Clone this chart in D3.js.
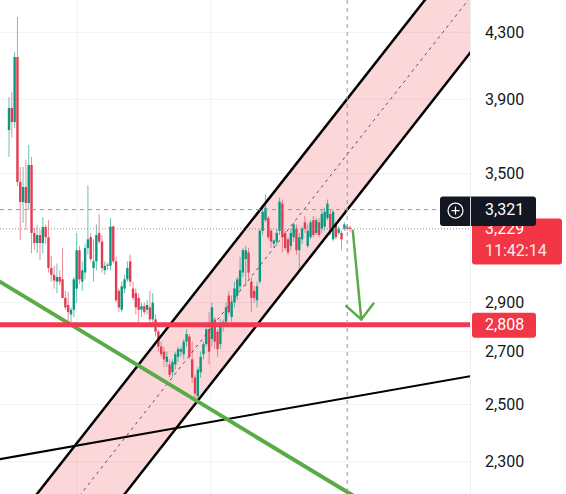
<!DOCTYPE html>
<html>
<head>
<meta charset="utf-8">
<script src="https://cdn.jsdelivr.net/npm/d3@7"></script>
<style>
  html, body { margin: 0; padding: 0; background: #fff; }
  svg { display: block; font-family: Roboto, "Noto Sans", sans-serif; }
</style>
</head>
<body>
<script>
// candle data
const opens = [3729,3851,3773,4148,3457,3358,3432,3353,3544,3210,3163,3200,3163,3238,3190,3050,3020,2990,3010,3000,2920,2890,2850,2870,2960,3130,2990,3030,3140,3190,3050,3080,3210,3170,3040,3060,3060,3240,3080,2950,2870,2960,3000,3080,2960,2940,2920,2870,2885,2870,2880,2830,
  2830,2780,2720,2700,2660,2650,2620,2650,2680,2700,2690,2740,2760,2670,2600,
  2530,2620,2690,2730,2790,2750,2830,2780,2730,2800,2820,2930,2840,2900,2930,2970,3030,3090,3120,2990,2950,2910,2990,3220,3270,
  3280,3220,3160,3170,3220,3350,3210,3180,3150,3190,3230,3130,3180,3260,3150,3190,3270,3210,3260,3230,3240,3280,3300,3180,3250,3210,3210,3230,3240,3235];
const highs = [3913,3941,4180,4397,3534,3534,3570,3650,3586,3234,3248,3224,3285,3250,3270,3105,3060,3070,3040,3140,2950,2945,2880,3010,3210,3150,3080,3160,3440,3210,3180,3250,3300,3200,3080,3075,3280,3245,3100,2960,2990,3020,3080,3110,2990,2960,2940,2900,2900,2910,2950,2940,
  2850,2790,2740,2720,2700,2670,2670,2700,2720,2720,2750,2790,2770,2740,2610,
  2640,2700,2740,2810,2860,2900,2840,2790,2830,2830,2900,2950,2930,2990,3010,3100,3140,3150,3140,3010,2970,2990,3230,3330,3395,
  3290,3230,3180,3230,3380,3370,3220,3190,3230,3260,3250,3210,3240,3290,3250,3270,3290,3280,3280,3320,3330,3370,3320,3320,3260,3240,3220,3260,3250,3245];
const lows = [3586,3690,3740,3437,3177,3257,3224,3319,3117,3131,3117,3086,3117,3160,3030,2990,2960,2940,2975,2920,2870,2808,2820,2840,2900,2980,2950,3000,3110,3080,2990,3040,3160,3030,3020,3040,3040,3070,2900,2860,2860,2940,2990,2970,2910,2850,2820,2840,2850,2850,2800,2800,
  2760,2700,2680,2640,2640,2600,2600,2630,2660,2680,2670,2720,2670,2580,2517,
  2520,2600,2670,2720,2650,2720,2710,2680,2710,2780,2800,2850,2820,2880,2910,2950,3010,2970,3000,2860,2900,2880,2980,3200,3260,
  3180,3140,3140,3150,3200,3120,3130,3110,3130,3170,3110,3040,3160,3210,3140,3180,3190,3200,3190,3210,3220,3270,3200,3170,3180,3200,3130,3220,3220,3215];
const closes = [3851,3773,4148,3457,3358,3432,3353,3544,3210,3163,3200,3163,3238,3190,3050,3020,2995,3010,2990,2920,2880,2860,2870,3000,3130,3000,3040,3140,3180,3090,3080,3200,3170,3050,3060,3065,3240,3080,2910,2880,2970,3000,3050,2990,2920,2880,2870,2885,2860,2890,2830,2900,
  2780,2720,2690,2670,2680,2610,2660,2690,2710,2710,2740,2770,2680,2600,2540,
  2630,2680,2730,2790,2700,2880,2740,2710,2810,2820,2880,2860,2900,2960,3000,3040,3130,3130,3030,2920,2920,2970,3220,3310,3330,
  3190,3170,3175,3210,3360,3190,3140,3120,3210,3250,3130,3190,3230,3230,3220,3260,3200,3270,3200,3300,3310,3350,3220,3310,3190,3230,3180,3250,3230,3229];

const priceTicks = [2300, 2500, 2700, 2900, 3500, 3900, 4300];
const timeGrid = [24.1, 71.6];
const lastPrice = 3229, lastTimer = '11:42:14';
const crossPrice = 3321, crossIndex = 120;
const levelPrice = 2808;
// drawn lines: [candle index, price]
const channelUpper = [[40, 2568], [120, 3902]];
const channelLower = [[66, 2501], [120, 3320]];
const greenLine = [[22, 2808], [66, 2517]];
const blackLine = [[0, 2314], [120, 2524]];
const arrowPts = [[122, 3220], [125, 2830]];

const W = 566, H = 494, plotW = 470;

const x = d3.scaleLinear().domain([0, closes.length - 1]).range([9, 350]);
const y = d3.scaleLog().domain([2300, 4300]).range([461.7, 32.3]);

const svg = d3.select('body').append('svg')
  .attr('width', W)
  .attr('height', H);

svg.append('defs').append('clipPath').attr('id', 'plot')
  .append('rect').attr('width', plotW).attr('height', H);

const plot = svg.append('g').attr('clip-path', 'url(#plot)');

// grid
plot.selectAll('.hgrid').data(priceTicks).enter().append('line')
  .attr('x1', 0).attr('x2', plotW)
  .attr('y1', d => y(d)).attr('y2', d => y(d))
  .attr('stroke', '#f0f1f4').attr('stroke-width', 1);
plot.selectAll('.vgrid').data(timeGrid).enter().append('line')
  .attr('x1', d => x(d)).attr('x2', d => x(d))
  .attr('y1', 0).attr('y2', H)
  .attr('stroke', '#f0f1f4').attr('stroke-width', 1);

// extend a 2-point line across the plot in pixel space
function ext(pts, xa, xb) {
  const [p1, p2] = pts.map(p => [x(p[0]), y(p[1])]);
  const k = (p2[1] - p1[1]) / (p2[0] - p1[0]);
  return [[xa, p1[1] + (xa - p1[0]) * k], [xb, p1[1] + (xb - p1[0]) * k]];
}

const up = ext(channelUpper, -20, 500);
const lo = ext(channelLower, -20, 500);
const mid = [[-20, (up[0][1] + lo[0][1]) / 2], [500, (up[1][1] + lo[1][1]) / 2]];

plot.append('path')
  .attr('d', d3.line()([up[0], up[1], lo[1], lo[0]]) + 'Z')
  .attr('fill', '#f23645').attr('fill-opacity', 0.2);

// candles
const idx = d3.range(closes.length);
const upC = '#089981', dnC = '#e23c52';
const col = i => closes[i] >= opens[i] ? upC : dnC;

plot.selectAll('.wick').data(idx).enter().append('line')
  .attr('x1', i => x(i)).attr('x2', i => x(i))
  .attr('y1', i => y(highs[i])).attr('y2', i => y(lows[i]))
  .attr('stroke', col).attr('stroke-width', 1).attr('stroke-opacity', 0.6);

plot.selectAll('.body').data(idx).enter().append('rect')
  .attr('x', i => x(i) - 1.2)
  .attr('width', 2.4)
  .attr('y', i => y(Math.max(opens[i], closes[i])))
  .attr('height', i => Math.max(1, Math.abs(y(opens[i]) - y(closes[i]))))
  .attr('fill', col);

// channel lines
plot.append('path').attr('d', d3.line()(mid))
  .attr('stroke', '#555').attr('stroke-width', 1).attr('stroke-dasharray', '3,4').attr('fill', 'none');
[up, lo].forEach(l => plot.append('path').attr('d', d3.line()(l))
  .attr('stroke', '#000').attr('stroke-width', 2.5).attr('fill', 'none'));

// black support line
plot.append('path').attr('d', d3.line()(ext(blackLine, -20, 500)))
  .attr('stroke', '#000').attr('stroke-width', 2).attr('fill', 'none');

// green trend line
plot.append('path').attr('d', d3.line()(ext(greenLine, -20, 500)))
  .attr('stroke', '#5aab47').attr('stroke-width', 4).attr('fill', 'none');

// horizontal level
plot.append('line')
  .attr('x1', 0).attr('x2', plotW)
  .attr('y1', y(levelPrice)).attr('y2', y(levelPrice))
  .attr('stroke', '#ee3b52').attr('stroke-width', 5);

// last price dotted line
plot.append('line')
  .attr('x1', 0).attr('x2', plotW)
  .attr('y1', y(lastPrice)).attr('y2', y(lastPrice))
  .attr('stroke', '#8a8d96').attr('stroke-width', 1).attr('stroke-dasharray', '1,2');

// crosshair
plot.append('line')
  .attr('x1', 0).attr('x2', plotW)
  .attr('y1', y(crossPrice)).attr('y2', y(crossPrice))
  .attr('stroke', '#9598a1').attr('stroke-width', 1).attr('stroke-dasharray', '4,4');
plot.append('line')
  .attr('x1', x(crossIndex)).attr('x2', x(crossIndex))
  .attr('y1', 0).attr('y2', H)
  .attr('stroke', '#9598a1').attr('stroke-width', 1).attr('stroke-dasharray', '4,4');

// green arrow
const a0 = [x(arrowPts[0][0]), y(arrowPts[0][1])];
const a1 = [x(arrowPts[1][0]), y(arrowPts[1][1])];
const ang = Math.atan2(a0[1] - a1[1], a0[0] - a1[0]);
const arm = t => [a1[0] + 20 * Math.cos(ang + t), a1[1] + 20 * Math.sin(ang + t)];
const ag = plot.append('g').attr('stroke', '#5aab47').attr('stroke-width', 2.5)
  .attr('fill', 'none').attr('stroke-linecap', 'round');
ag.append('path').attr('d', d3.line()([a0, a1]));
ag.append('path').attr('d', d3.line()([arm(0.75), a1, arm(-0.75)]));

// price axis
svg.append('line')
  .attr('x1', plotW + 0.5).attr('x2', plotW + 0.5).attr('y1', 0).attr('y2', H)
  .attr('stroke', '#eceef2');

svg.selectAll('.tick').data(priceTicks).enter().append('text')
  .attr('x', 485).attr('y', d => y(d)).attr('dy', '0.35em')
  .attr('font-size', 16).attr('fill', '#131722')
  .text(d => d3.format(',')(d));

// last price label (partly covered by the crosshair label)
const ly = y(lastPrice);
svg.append('rect').attr('x', 472).attr('y', ly - 10.5).attr('width', 90).attr('height', 46)
  .attr('rx', 3).attr('fill', '#f23645');
svg.append('text').attr('x', 485).attr('y', ly).attr('dy', '0.35em')
  .attr('font-size', 16).attr('fill', '#fff').text(d3.format(',')(lastPrice));
svg.append('text').attr('x', 485).attr('y', ly + 21.5).attr('dy', '0.35em')
  .attr('font-size', 16).attr('fill', '#fde8ea').text(lastTimer);

// level label
const vy = y(levelPrice);
svg.append('rect').attr('x', 472).attr('y', vy - 12).attr('width', 64).attr('height', 25)
  .attr('rx', 3).attr('fill', '#f23645');
svg.append('text').attr('x', 485).attr('y', vy).attr('dy', '0.35em')
  .attr('font-size', 16).attr('fill', '#fff').text(d3.format(',')(levelPrice));

// crosshair label
const cy = y(crossPrice);
svg.append('rect').attr('x', 440).attr('y', cy - 13).attr('width', 96).attr('height', 29.5)
  .attr('rx', 3).attr('fill', '#131722');
svg.append('line').attr('x1', 470.5).attr('x2', 470.5).attr('y1', cy - 13).attr('y2', cy + 16.5)
  .attr('stroke', '#d1d4dc').attr('stroke-width', 1);
svg.append('circle').attr('cx', 455.5).attr('cy', cy + 1).attr('r', 7.5)
  .attr('fill', 'none').attr('stroke', '#fff').attr('stroke-width', 1.2);
svg.append('path').attr('d', `M451.5,${cy + 1}H459.5M455.5,${cy - 3}V${cy + 5}`)
  .attr('stroke', '#fff').attr('stroke-width', 1.2);
svg.append('text').attr('x', 485).attr('y', cy).attr('dy', '0.35em')
  .attr('font-size', 16).attr('fill', '#fff').text(d3.format(',')(crossPrice));
</script>
</body>
</html>
